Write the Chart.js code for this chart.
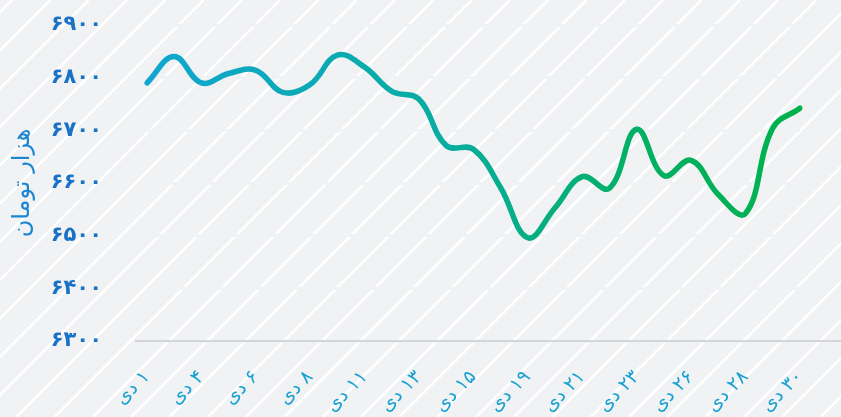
<!DOCTYPE html>
<html lang="fa">
<head>
<meta charset="utf-8">
<script src="https://cdn.jsdelivr.net/npm/chart.js@4/dist/chart.umd.min.js"></script>
<style>
  html, body { margin: 0; padding: 0; background: #f1f2f4; }
  #wrap { width: 841px; height: 417px; }
</style>
</head>
<body>
<div id="wrap"><canvas id="price-chart" dir="rtl"></canvas></div>
<script>
// days of Dey (only every other one gets a label on the axis)
var days = ['۱ دی', '۳ دی', '۴ دی', '۵ دی', '۶ دی', '۷ دی', '۸ دی', '۱۰ دی', '۱۱ دی',
  '۱۲ دی', '۱۳ دی', '۱۴ دی', '۱۵ دی', '۱۸ دی', '۱۹ دی', '۲۰ دی', '۲۱ دی', '۲۲ دی',
  '۲۳ دی', '۲۵ دی', '۲۶ دی', '۲۷ دی', '۲۸ دی', '۲۹ دی', '۳۰ دی'];

// price, thousand toman
var prices = [6790, 6840, 6790, 6808, 6814, 6772, 6787, 6843, 6820, 6774, 6759, 6671, 6664,
  6591, 6496, 6553, 6612, 6590, 6702, 6614, 6643, 6578, 6542, 6704, 6742];

var yMin = 6300;
var yMax = 6900;
var yStep = 100;

var faDigits = '۰۱۲۳۴۵۶۷۸۹';
function toFa(n) {
  return String(n).replace(/[0-9]/g, function (d) { return faDigits[+d]; });
}

var BG = '#f1f2f4';

var stripes = {
  id: 'stripes',
  beforeDraw: function (chart) {
    var ctx = chart.ctx, w = chart.width, h = chart.height;
    ctx.save();
    ctx.fillStyle = BG;
    ctx.fillRect(0, 0, w, h);
    ctx.strokeStyle = '#ffffff';
    ctx.lineWidth = 2.5;
    ctx.beginPath();
    for (var c = 12; c < w + h + 40; c += 38.3) {
      ctx.moveTo(c, 0);
      ctx.lineTo(c - h, h);
    }
    ctx.stroke();
    ctx.restore();
  },
  beforeDatasetsDraw: function (chart) {
    // bottom axis line, runs out to the right edge
    var ctx = chart.ctx;
    var y = chart.scales.y.getPixelForValue(yMin);
    ctx.save();
    ctx.strokeStyle = '#d4d5d8';
    ctx.lineWidth = 2;
    ctx.beginPath();
    ctx.moveTo(chart.chartArea.left - 12, y);
    ctx.lineTo(chart.width, y);
    ctx.stroke();
    ctx.restore();
  }
};

function lineGradient(context) {
  var chart = context.chart;
  var area = chart.chartArea;
  if (!area) return '#0ea6cf';
  var g = chart.ctx.createLinearGradient(area.left, 0, area.right, 0);
  g.addColorStop(0, '#10a6d0');
  g.addColorStop(0.45, '#08ada0');
  g.addColorStop(0.75, '#02b063');
  g.addColorStop(1, '#00b14c');
  return g;
}

var ctx = document.getElementById('price-chart');

var myChart = new Chart(ctx, {
  type: 'line',
  data: {
    labels: days,
    datasets: [{
      data: prices,
      borderColor: lineGradient,
      borderWidth: 5.5,
      borderCapStyle: 'round',
      borderJoinStyle: 'round',
      tension: 0.4,
      pointRadius: 0,
      fill: false
    }]
  },
  plugins: [stripes],
  options: {
    responsive: true,
    maintainAspectRatio: false,
    animation: false,
    layout: {
      padding: { top: 25, right: 41, left: 0, bottom: 0 }
    },
    plugins: {
      legend: { display: false },
      tooltip: { enabled: false }
    },
    scales: {
      x: {
        grid: { display: false, drawTicks: false },
        border: { display: false },
        afterFit: function (scale) { scale.height = 76; },
        ticks: {
          autoSkip: false,
          minRotation: 45,
          maxRotation: 45,
          padding: 25,
          color: '#16a1d3',
          font: { family: 'DejaVu Sans', size: 19 },
          callback: function (v, i) { return i % 2 === 0 ? days[i] : ''; }
        }
      },
      y: {
        min: yMin,
        max: yMax,
        grid: { color: BG, lineWidth: 3, drawTicks: false },
        border: { display: false },
        afterFit: function (scale) {
          scale.width = 147;
          scale.paddingTop = 0;
          scale.paddingBottom = 0;
        },
        ticks: {
          stepSize: yStep,
          padding: 45,
          color: '#1a72c6',
          font: { family: 'DejaVu Sans', size: 21, weight: 'bold' },
          callback: function (v) { return toFa(v); }
        },
        title: {
          display: true,
          text: 'هزار تومان',
          color: '#1d86d2',
          padding: { top: 8, bottom: 0 },
          font: { family: 'DejaVu Sans', size: 24 }
        }
      }
    }
  }
});
</script>
</body>
</html>
